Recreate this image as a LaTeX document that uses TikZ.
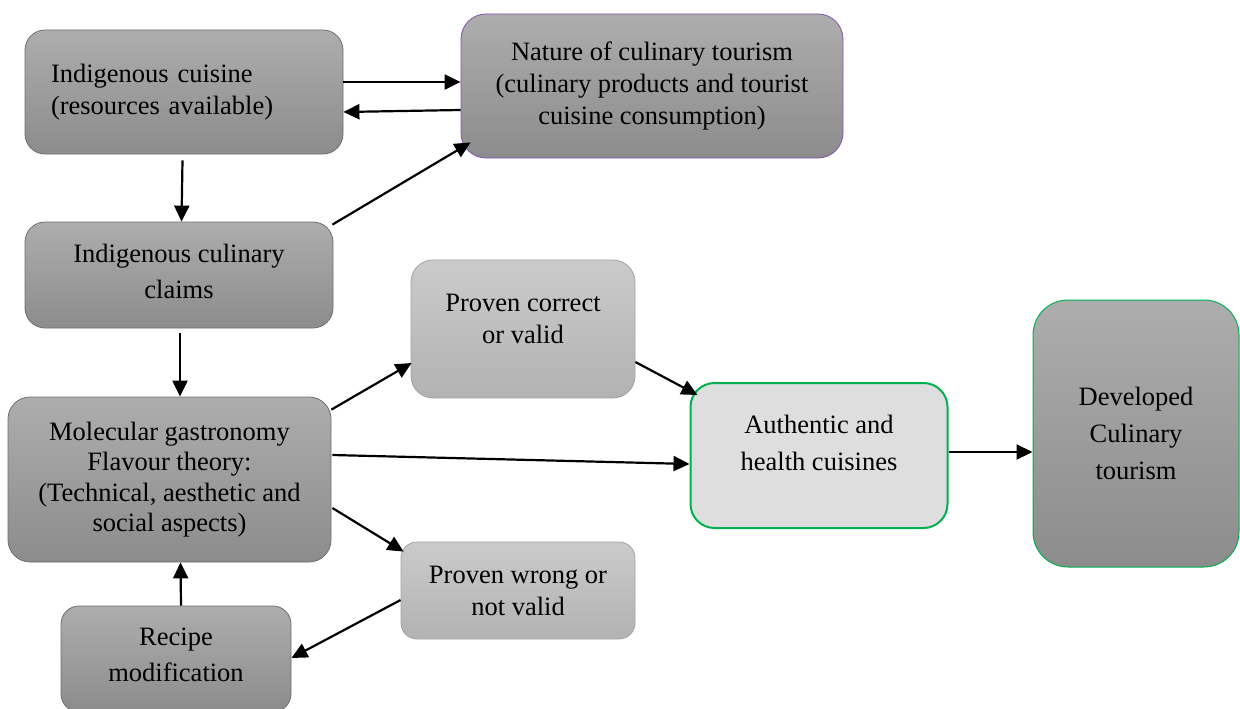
\documentclass[tikz,border=0pt]{standalone}
\usepackage{fontspec}
\setmainfont{Liberation Serif}
\usetikzlibrary{arrows.meta,calc}

\definecolor{boxtop}{HTML}{ADADAD}
\definecolor{boxbot}{HTML}{8C8C8C}
\definecolor{lighttop}{HTML}{CBCBCB}
\definecolor{lightbot}{HTML}{B2B2B2}
\definecolor{boxedge}{HTML}{6F6F6F}
\definecolor{lightedge}{HTML}{A3A3A3}
\definecolor{purpleedge}{HTML}{8650B5}
\definecolor{greenedge}{HTML}{00B050}
\definecolor{palefill}{HTML}{DEDEDE}

\tikzset{
  card/.style={rectangle, rounded corners=20pt, align=center, inner sep=0pt,
    font=\fontsize{26.5}{32}\selectfont},
  darkcard/.style={card, top color=boxtop, bottom color=boxbot, draw=boxedge, line width=0.8pt},
  lightcard/.style={card, top color=lighttop, bottom color=lightbot, draw=lightedge, line width=0.8pt},
  boxsize/.style 2 args={minimum width=#1pt, minimum height=#2pt},
  link/.style={line width=2.2pt, -{Triangle[length=16pt,width=15pt]}}
}

\begin{document}
\begin{tikzpicture}[x=1pt, y=-1pt]
\useasboundingbox (0,0) rectangle (1240,709);
\clip (0,0) rectangle (1240,709);

% boxes
\node[darkcard, boxsize={318}{124}, align=left, text width=266pt] (cuisine) at (184,92)
  {Indigenous cuisine\\(resources available)};
\node[darkcard, draw=purpleedge, rounded corners=25pt, boxsize={382}{144}] (nature) at (652,86)
  {Nature of culinary tourism\\(culinary products and tourist\\cuisine consumption)};
\node[darkcard, boxsize={308}{106}, font=\fontsize{26.5}{36}\selectfont, text depth=8pt] (claims) at (179,275)
  {Indigenous culinary\\claims};
\node[darkcard, rounded corners=22pt, boxsize={323}{165}, font=\fontsize{26.5}{30.5}\selectfont] (molecular) at (169.5,479.5)
  {Molecular gastronomy\\Flavour theory:\\(Technical, aesthetic and\\social aspects)};
\node[lightcard, rounded corners=22pt, boxsize={224}{138}, text depth=20pt] (correct) at (523,329)
  {Proven correct\\or valid};
\node[lightcard, rounded corners=16pt, boxsize={234}{97}] (wrong) at (518,590.5)
  {Proven wrong or\\not valid};
\node[darkcard, rounded corners=18pt, boxsize={230}{106}, font=\fontsize{26.5}{36}\selectfont, text depth=8pt] (recipe) at (176,659)
  {Recipe\\modification};
\node[card, fill=palefill, draw=greenedge, line width=2pt, rounded corners=24pt, boxsize={257}{145},
  font=\fontsize{26.5}{37}\selectfont, text depth=26pt] (authentic) at (819,455.5)
  {Authentic and\\health cuisines};
\node[darkcard, draw=greenedge, line width=1pt, rounded corners=35pt, boxsize={206}{267},
  font=\fontsize{26.5}{37}\selectfont] (developed) at (1136,433.5)
  {Developed\\Culinary\\tourism};

% connectors
\draw[link] ($(cuisine.east)+(0,-10)$) -- ($(nature.west)+(0,-4)$);
\draw[link] ($(nature.west)+(0,24)$) -- ($(cuisine.east)+(0,20)$);
\draw[link] ($(cuisine.south)+(-1.5,6)$) -- ($(claims.north)+(2.5,0)$);
\draw[link] ($(claims.north east)+(-1,3)$) -- ($(nature.south west)+(10,-16)$);
\draw[link] ($(claims.south)+(1,5)$) -- ($(molecular.north)+(10.5,0)$);
\draw[link] ($(molecular.north east)+(0,13)$) -- ($(correct.west)+(1,34)$);
\draw[link] ($(correct.east)+(0,33)$) -- ($(authentic.north west)+(8,13)$);
\draw[link] ($(molecular.east)+(1,-24.5)$) -- ($(authentic.west)+(0,8.5)$);
\draw[link] ($(molecular.east)+(1,28.5)$) -- ($(wrong.north west)+(3,10)$);
\draw[link] ($(wrong.west)+(0,9.5)$) -- ($(recipe.east)+(0,-1)$);
\draw[link] ($(recipe.north)+(5,0)$) -- ($(molecular.south)+(11,0)$);
\draw[link] ($(authentic.east)+(0,-3.5)$) -- ($(developed.west)+(0,18.5)$);
\end{tikzpicture}
\end{document}
